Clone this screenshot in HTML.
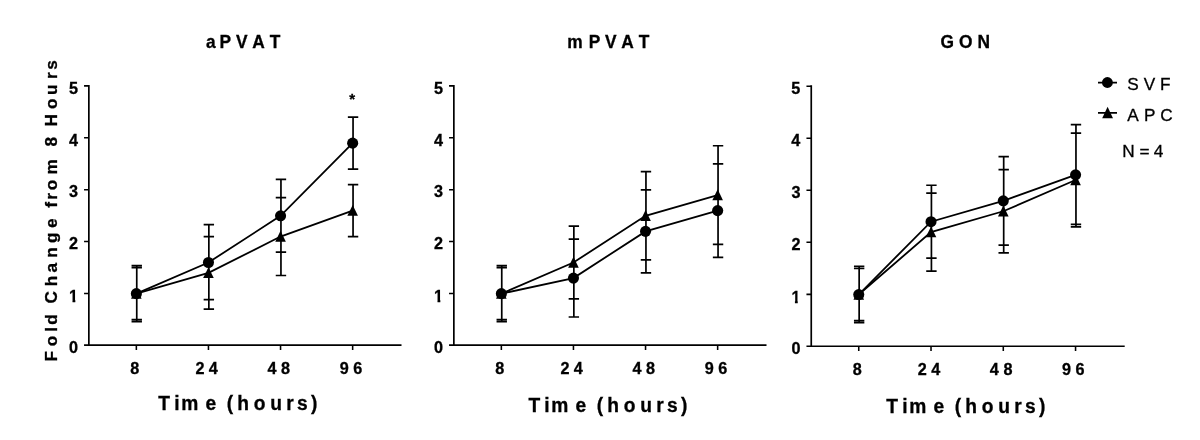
<!DOCTYPE html>
<html lang="en">
<head>
<meta charset="utf-8">
<title>Fold change from 8 hours: aPVAT, mPVAT, GON</title>
<style>
html,body{margin:0;padding:0;background:#fff;}
body{width:1200px;height:440px;overflow:hidden;}
svg{display:block;}
svg text{stroke:#000;stroke-width:0.3px;font-family:"Liberation Sans",Arial,Helvetica,sans-serif;fill:#000;font-kerning:none;white-space:pre;}
.g{stroke:#000;fill:none;stroke-linecap:butt;stroke-linejoin:miter;}
.g circle,.g polygon{fill:#000;stroke:none;}
</style>
</head>
<body>
<svg width="1200" height="440" viewBox="0 0 1200 440">
<rect width="1200" height="440" fill="#fff"/>
<defs><clipPath id="one"><polygon points="-0.09,-13.31 6.3,-13.31 6.3,1.5 3.53,1.5 3.53,-2.2 -0.09,-2.2"/></clipPath></defs>
<g class="g">
<path d="M88.85 85.07 V346" stroke-width="1.7"/>
<path d="M84.05 345.15 H401.5" stroke-width="1.6"/>
<path d="M84.05 293.45H88.85M84.05 241.55H88.85M84.05 189.65H88.85M84.05 137.75H88.85M84.05 85.85H88.85M136.35 345.15V350.05M208.45 345.15V350.05M280.55 345.15V350.05M352.65 345.15V350.05" stroke-width="1.55"/>
<path d="M136.75 265.62V321.68M131.55 265.62H141.95M131.55 321.68H141.95M208.85 224.62V299.62M203.65 224.62H214.05M203.65 299.62H214.05M280.95 179.47V252.13M275.75 179.47H286.15M275.75 252.13H286.15M353.05 117.19V169.09M347.85 117.19H358.25M347.85 169.09H358.25M136.75 267.7V319.6M131.55 267.7H141.95M131.55 319.6H141.95M208.85 236.56V309.22M203.65 236.56H214.05M203.65 309.22H214.05M280.95 197.63V275.48M275.75 197.63H286.15M275.75 275.48H286.15M353.05 184.66V236.56M347.85 184.66H358.25M347.85 236.56H358.25" stroke-width="1.7"/>
<polyline points="136.35,293.65 208.45,262.51 280.55,215.8 352.65,143.14" stroke-width="1.8"/>
<polyline points="136.35,293.65 208.45,272.89 280.55,236.56 352.65,210.61" stroke-width="1.8"/>
<circle cx="136.35" cy="293.65" r="5.55"/>
<circle cx="208.45" cy="262.51" r="5.55"/>
<circle cx="280.55" cy="215.8" r="5.55"/>
<circle cx="352.65" cy="143.14" r="5.55"/>
<polygon points="136.35,287.95 141.65,298.85 131.05,298.85"/>
<polygon points="208.45,267.19 213.75,278.09 203.15,278.09"/>
<polygon points="280.55,230.86 285.85,241.76 275.25,241.76"/>
<polygon points="352.65,204.91 357.95,215.81 347.35,215.81"/>
<path d="M453.85 85.07 V346" stroke-width="1.7"/>
<path d="M449.05 345.15 H766.5" stroke-width="1.6"/>
<path d="M449.05 293.45H453.85M449.05 241.55H453.85M449.05 189.65H453.85M449.05 137.75H453.85M449.05 85.85H453.85M501.35 345.15V350.05M573.45 345.15V350.05M645.55 345.15V350.05M717.65 345.15V350.05" stroke-width="1.55"/>
<path d="M501.75 265.62V321.68M496.55 265.62H506.95M496.55 321.68H506.95M573.85 239.15V317M568.65 239.15H579.05M568.65 317H579.05M645.95 189.85V272.89M640.75 189.85H651.15M640.75 272.89H651.15M718.05 163.9V257.32M712.85 163.9H723.25M712.85 257.32H723.25M501.75 267.7V319.6M496.55 267.7H506.95M496.55 319.6H506.95M573.85 226.18V298.84M568.65 226.18H579.05M568.65 298.84H579.05M645.95 171.68V259.91M640.75 171.68H651.15M640.75 259.91H651.15M718.05 145.73V244.34M712.85 145.73H723.25M712.85 244.34H723.25" stroke-width="1.7"/>
<polyline points="501.35,293.65 573.45,278.08 645.55,231.37 717.65,210.61" stroke-width="1.8"/>
<polyline points="501.35,293.65 573.45,262.51 645.55,215.8 717.65,195.04" stroke-width="1.8"/>
<circle cx="501.35" cy="293.65" r="5.55"/>
<circle cx="573.45" cy="278.08" r="5.55"/>
<circle cx="645.55" cy="231.37" r="5.55"/>
<circle cx="717.65" cy="210.61" r="5.55"/>
<polygon points="501.35,287.95 506.65,298.85 496.05,298.85"/>
<polygon points="573.45,256.81 578.75,267.71 568.15,267.71"/>
<polygon points="645.55,210.1 650.85,221 640.25,221"/>
<polygon points="717.65,189.34 722.95,200.24 712.35,200.24"/>
<path d="M811.25 85.37 V347.05" stroke-width="1.7"/>
<path d="M806.45 346.2 H1124.7" stroke-width="1.6"/>
<path d="M806.45 294.35H811.25M806.45 242.3H811.25M806.45 190.25H811.25M806.45 138.2H811.25M806.45 86.15H811.25M858.75 346.2V351.1M931.02 346.2V351.1M1003.29 346.2V351.1M1075.56 346.2V351.1" stroke-width="1.55"/>
<path d="M859.15 266.44V322.66M853.95 266.44H864.35M853.95 322.66H864.35M931.42 185.24V258.11M926.22 185.24H936.62M926.22 258.11H936.62M1003.69 156.62V245.1M998.49 156.62H1008.89M998.49 245.1H1008.89M1075.96 124.61V224.28M1070.76 124.61H1081.16M1070.76 224.28H1081.16M859.15 268.52V320.57M853.95 268.52H864.35M853.95 320.57H864.35M931.42 193.05V271.13M926.22 193.05H936.62M926.22 271.13H936.62M1003.69 169.63V252.91M998.49 169.63H1008.89M998.49 252.91H1008.89M1075.96 133.19V226.88M1070.76 133.19H1081.16M1070.76 226.88H1081.16" stroke-width="1.7"/>
<polyline points="858.75,294.55 931.02,221.68 1003.29,200.86 1075.56,174.83" stroke-width="1.8"/>
<polyline points="858.75,294.55 931.02,232.09 1003.29,211.27 1075.56,180.04" stroke-width="1.8"/>
<circle cx="858.75" cy="294.55" r="5.55"/>
<circle cx="931.02" cy="221.68" r="5.55"/>
<circle cx="1003.29" cy="200.86" r="5.55"/>
<circle cx="1075.56" cy="174.83" r="5.55"/>
<polygon points="858.75,288.85 864.05,299.75 853.45,299.75"/>
<polygon points="931.02,226.39 936.32,237.29 925.72,237.29"/>
<polygon points="1003.29,205.57 1008.59,216.47 997.99,216.47"/>
<polygon points="1075.56,174.34 1080.86,185.24 1070.26,185.24"/>
<path d="M1098 82.65H1117M1098 112.9H1117" stroke-width="1.7"/>
<circle cx="1107.4" cy="82.5" r="5.45"/>
<polygon points="1107.6,106.8 1113,118.2 1102.2,118.2"/>
</g>
<g>
<text transform="translate(0,353.15) scale(1,1.06)" font-size="16.2" font-weight="bold" x="69.01" y="0">0</text>
<g transform="translate(69,302.15)" clip-path="url(#one)"><text transform="scale(1,1.06)" font-size="16.2" font-weight="bold" x="0" y="0">1</text></g>
<text transform="translate(0,249.35) scale(1,1.06)" font-size="16.2" font-weight="bold" x="69.04" y="0">2</text>
<text transform="translate(0,197.45) scale(1,1.06)" font-size="16.2" font-weight="bold" x="69.1" y="0">3</text>
<text transform="translate(0,145.55) scale(1,1.06)" font-size="16.2" font-weight="bold" x="68.92" y="0">4</text>
<text transform="translate(0,93.65) scale(1,1.06)" font-size="16.2" font-weight="bold" x="68.97" y="0">5</text>
<text transform="translate(0,374) scale(1,1.06)" font-size="16.2" font-weight="bold" x="130.34" y="0">8</text>
<text transform="translate(0,374) scale(1,1.06)" font-size="16.2" font-weight="bold" x="195.44 208.82" y="0">24</text>
<text transform="translate(0,374) scale(1,1.06)" font-size="16.2" font-weight="bold" x="267.42 280.99" y="0">48</text>
<text transform="translate(0,374) scale(1,1.06)" font-size="16.2" font-weight="bold" x="339.66 353.19" y="0">96</text>
<text transform="translate(0,409.6) scale(1,1.03)" font-size="19.2" font-weight="bold" x="158.38 174.34 181.18 205.51 216.19 226.73 237.29 253.79 270.17 286.18 297.12 311" y="0">Time (hours)</text>
<text transform="translate(0,353.15) scale(1,1.06)" font-size="16.2" font-weight="bold" x="434.01" y="0">0</text>
<g transform="translate(434,302.15)" clip-path="url(#one)"><text transform="scale(1,1.06)" font-size="16.2" font-weight="bold" x="0" y="0">1</text></g>
<text transform="translate(0,249.35) scale(1,1.06)" font-size="16.2" font-weight="bold" x="434.04" y="0">2</text>
<text transform="translate(0,197.45) scale(1,1.06)" font-size="16.2" font-weight="bold" x="434.1" y="0">3</text>
<text transform="translate(0,145.55) scale(1,1.06)" font-size="16.2" font-weight="bold" x="433.92" y="0">4</text>
<text transform="translate(0,93.65) scale(1,1.06)" font-size="16.2" font-weight="bold" x="433.97" y="0">5</text>
<text transform="translate(0,374) scale(1,1.06)" font-size="16.2" font-weight="bold" x="495.34" y="0">8</text>
<text transform="translate(0,374) scale(1,1.06)" font-size="16.2" font-weight="bold" x="560.44 573.82" y="0">24</text>
<text transform="translate(0,374) scale(1,1.06)" font-size="16.2" font-weight="bold" x="632.42 645.99" y="0">48</text>
<text transform="translate(0,374) scale(1,1.06)" font-size="16.2" font-weight="bold" x="704.66 718.19" y="0">96</text>
<text transform="translate(0,411.8) scale(1,1.03)" font-size="19.2" font-weight="bold" x="528.38 544.34 551.18 575.51 586.19 596.73 607.29 623.79 640.17 656.18 667.12 681" y="0">Time (hours)</text>
<text transform="translate(0,354.2) scale(1,1.06)" font-size="16.2" font-weight="bold" x="791.41" y="0">0</text>
<g transform="translate(791.4,303.05)" clip-path="url(#one)"><text transform="scale(1,1.06)" font-size="16.2" font-weight="bold" x="0" y="0">1</text></g>
<text transform="translate(0,250.1) scale(1,1.06)" font-size="16.2" font-weight="bold" x="791.44" y="0">2</text>
<text transform="translate(0,198.05) scale(1,1.06)" font-size="16.2" font-weight="bold" x="791.5" y="0">3</text>
<text transform="translate(0,146) scale(1,1.06)" font-size="16.2" font-weight="bold" x="791.32" y="0">4</text>
<text transform="translate(0,93.95) scale(1,1.06)" font-size="16.2" font-weight="bold" x="791.37" y="0">5</text>
<text transform="translate(0,375.05) scale(1,1.06)" font-size="16.2" font-weight="bold" x="852.74" y="0">8</text>
<text transform="translate(0,375.05) scale(1,1.06)" font-size="16.2" font-weight="bold" x="917.84 931.22" y="0">24</text>
<text transform="translate(0,375.05) scale(1,1.06)" font-size="16.2" font-weight="bold" x="989.82 1003.39" y="0">48</text>
<text transform="translate(0,375.05) scale(1,1.06)" font-size="16.2" font-weight="bold" x="1062.06 1075.59" y="0">96</text>
<text transform="translate(0,412.6) scale(1,1.03)" font-size="19.2" font-weight="bold" x="886.38 902.34 909.18 933.51 944.19 954.73 965.29 981.79 998.17 1014.18 1025.12 1039" y="0">Time (hours)</text>
<text transform="translate(0,47.5) scale(1,1.02)" font-size="17.33" font-weight="bold" x="206.12 219.59 236.07 252.36 269.7" y="0">aPVAT</text>
<text transform="translate(0,47.5) scale(1,1.02)" font-size="17.33" font-weight="bold" x="567.26 588.69 604.97 621.36 638.65" y="0">mPVAT</text>
<text transform="translate(0,47.5) scale(1,1.02)" font-size="17.33" font-weight="bold" x="940.39 959.12 977.5" y="0">GON</text>
<text transform="translate(57,0) rotate(-90) scale(1,0.99)" font-size="17.2" font-weight="bold" x="-361.41 -346.25 -331.78 -324.79 -314.28 -303.53 -286.17 -272.59 -257.79 -243.03 -228.07 -218.51 -207.68 -199.78 -190.15 -174.53 -159.24 -146.54 -136.98 -126.61 -109.05 -94.97 -78.88 -69.73" y="0">Fold Change from 8 Hours</text>
<text font-size="15" font-weight="bold" x="349.22" y="103.8">*</text>
<text font-size="17.2" font-weight="normal" x="1127.37 1143.86 1159.99" y="90.35">SVF</text>
<text font-size="17.2" font-weight="normal" x="1127.36 1144.01 1160.18" y="121.35">APC</text>
<text font-size="17.2" font-weight="normal" x="1122.29 1139.48 1153.67" y="156.85">N=4</text>
</g>
</svg>
</body>
</html>
